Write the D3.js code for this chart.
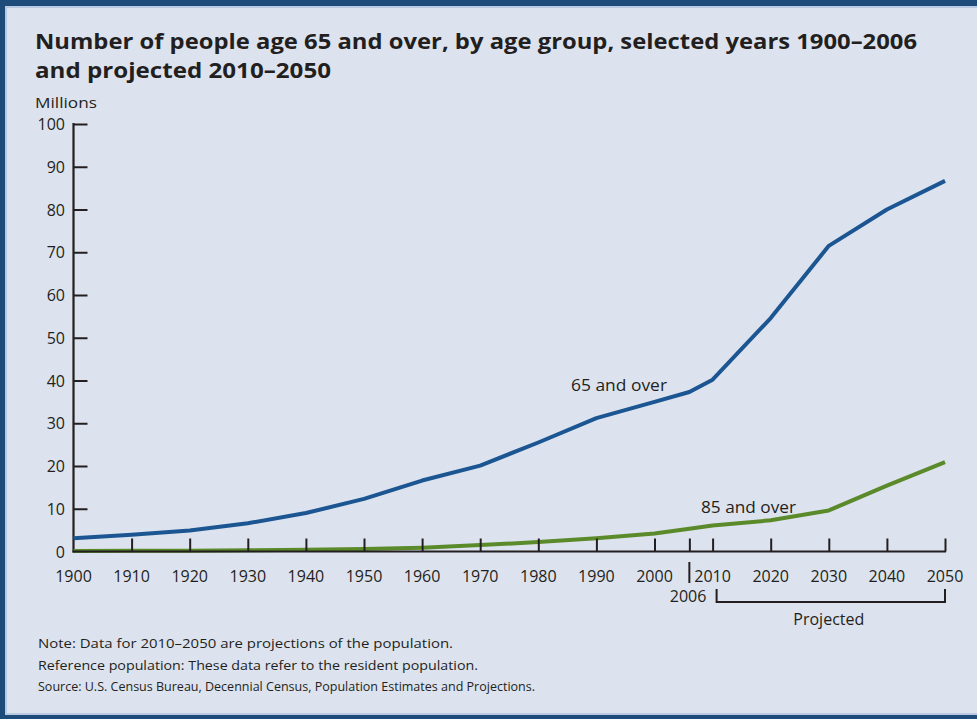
<!DOCTYPE html>
<html><head><meta charset="utf-8">
<script src="https://cdn.jsdelivr.net/npm/d3@7"></script>
<style>
html,body{margin:0;padding:0;background:#dde3ee;}
svg{display:block;font-family:"Open Sans",sans-serif;}
</style></head>
<body><svg id="c" width="977" height="719"></svg>
<script>
const years = [1900,1910,1920,1930,1940,1950,1960,1970,1980,1990,2000,2006,2010,2020,2030,2040,2050];
const age65 = [3.1,3.9,4.9,6.6,9.0,12.3,16.6,20.1,25.5,31.2,35.0,37.3,40.2,54.6,71.5,80.0,86.7];
const age85 = [0.1,0.2,0.2,0.3,0.4,0.6,0.9,1.5,2.2,3.1,4.2,5.3,6.1,7.3,9.6,15.4,20.9];
const xTicks = [1900,1910,1920,1930,1940,1950,1960,1970,1980,1990,2000,2006,2010,2020,2030,2040,2050];
const xTickLabels = [1900,1910,1920,1930,1940,1950,1960,1970,1980,1990,2000,2010,2020,2030,2040,2050];
const yTicks = [0,10,20,30,40,50,60,70,80,90,100];
const titleLines = ["Number of people age 65 and over, by age group, selected years 1900\u20132006","and projected 2010\u20132050"];
const notes = ["Note:  Data for 2010\u20132050 are projections of the population.",
  "Reference population:  These data refer to the resident population.",
  "Source:  U.S. Census Bureau, Decennial Census,  Population Estimates and Projections."];
const seriesLabels = ["65 and over","85 and over"];

const svg = d3.select("#c");
const W=977,H=719;
// frame
svg.append("rect").attr("x",0).attr("y",0).attr("width",W).attr("height",H).attr("fill","#dde3ee");
svg.append("rect").attr("x",0).attr("y",0).attr("width",W).attr("height",6).attr("fill","#1d4c7a");
svg.append("rect").attr("x",0).attr("y",0).attr("width",5).attr("height",H).attr("fill","#1d4c7a");
svg.append("rect").attr("x",0).attr("y",H-4).attr("width",W).attr("height",4).attr("fill","#1d4c7a");
svg.append("rect").attr("x",5).attr("y",6).attr("width",W-5).attr("height",2).attr("fill","#b9c9e0");
svg.append("rect").attr("x",5).attr("y",6).attr("width",2).attr("height",H-10).attr("fill","#b9c9e0");
svg.append("rect").attr("x",5).attr("y",H-6).attr("width",W-5).attr("height",2).attr("fill","#b9c9e0");

const x = d3.scaleLinear().domain([1900,2050]).range([73.5,945]);
const y = d3.scaleLinear().domain([0,100]).range([551.5,124]);
const ink="#231f20";

// title
svg.append("text").attr("x",35).attr("y",49).attr("font-weight","bold").attr("font-size",21).attr("fill",ink)
  .attr("textLength",882).attr("lengthAdjust","spacingAndGlyphs").text(titleLines[0]);
svg.append("text").attr("x",35).attr("y",78).attr("font-weight","bold").attr("font-size",21).attr("fill",ink)
  .attr("textLength",296).attr("lengthAdjust","spacingAndGlyphs").text(titleLines[1]);

svg.append("text").attr("x",35).attr("y",108).attr("font-size",15).attr("fill",ink)
  .attr("textLength",62).attr("lengthAdjust","spacingAndGlyphs").text("Millions");

// y axis
const yAxis = d3.axisRight(y).tickValues(yTicks).tickSize(14).tickFormat("");
const gy = svg.append("g").attr("transform",`translate(${x(1900)},0)`).call(yAxis);
gy.select(".domain").remove();
gy.selectAll("line").attr("stroke",ink).attr("stroke-width",2);
svg.append("line").attr("x1",x(1900)).attr("x2",x(1900)).attr("y1",y(100)-1).attr("y2",y(0)+1)
  .attr("stroke",ink).attr("stroke-width",2.2);
svg.append("g").selectAll("text").data(yTicks).join("text")
  .attr("x",65).attr("y",d=>y(d)+6).attr("text-anchor","end").attr("font-size",16).attr("fill",ink)
  .text(d=>d);

// lines
const line = d3.line().x((d,i)=>x(years[i])).y(d=>y(d));
svg.append("path").attr("d",line(age65)).attr("fill","none").attr("stroke","#1b5693").attr("stroke-width",4).attr("stroke-linejoin","round");
svg.append("path").attr("d",line(age85)).attr("fill","none").attr("stroke","#5b8a2b").attr("stroke-width",4).attr("stroke-linejoin","round");

// x axis
const xAxis = d3.axisTop(x).tickValues(xTicks.slice(1)).tickSize(13).tickFormat("");
const gx = svg.append("g").attr("transform",`translate(0,${y(0)})`).call(xAxis);
gx.select(".domain").remove();
gx.selectAll("line").attr("stroke",ink).attr("stroke-width",2);
svg.append("line").attr("x1",x(1900)-1).attr("x2",x(2050)+1).attr("y1",y(0)).attr("y2",y(0))
  .attr("stroke",ink).attr("stroke-width",2.2);
svg.append("g").selectAll("text").data(xTickLabels).join("text")
  .attr("x",d=>x(d)).attr("y",582).attr("text-anchor","middle").attr("font-size",16).attr("fill",ink)
  .text(d=>d);
// 2006 marker
svg.append("line").attr("x1",x(2006)).attr("x2",x(2006)).attr("y1",562).attr("y2",583).attr("stroke",ink).attr("stroke-width",2);
svg.append("text").attr("x",x(2006)+17).attr("y",602).attr("text-anchor","end").attr("font-size",16).attr("fill",ink).text("2006");
// projected bracket
svg.append("path").attr("d",`M${x(2010)+4},589V602H${x(2050)}V589`).attr("fill","none").attr("stroke",ink).attr("stroke-width",2);
svg.append("text").attr("x",(x(2010)+x(2050))/2+0).attr("y",625).attr("text-anchor","middle").attr("font-size",16).attr("fill",ink).text("Projected");

// series labels
svg.append("text").attr("x",571).attr("y",391).attr("font-size",17).attr("fill",ink)
  .attr("textLength",96).attr("lengthAdjust","spacingAndGlyphs").text(seriesLabels[0]);
svg.append("text").attr("x",701).attr("y",513).attr("font-size",17).attr("fill",ink)
  .attr("textLength",95).attr("lengthAdjust","spacingAndGlyphs").text(seriesLabels[1]);

// notes
const nl = [415,440,497];
svg.append("g").selectAll("text").data(notes).join("text")
  .attr("x",38).attr("y",(d,i)=>648+i*21.5).attr("font-size",13).attr("fill",ink)
  .attr("textLength",(d,i)=>nl[i]).attr("lengthAdjust","spacingAndGlyphs").text(d=>d);
</script></body></html>
